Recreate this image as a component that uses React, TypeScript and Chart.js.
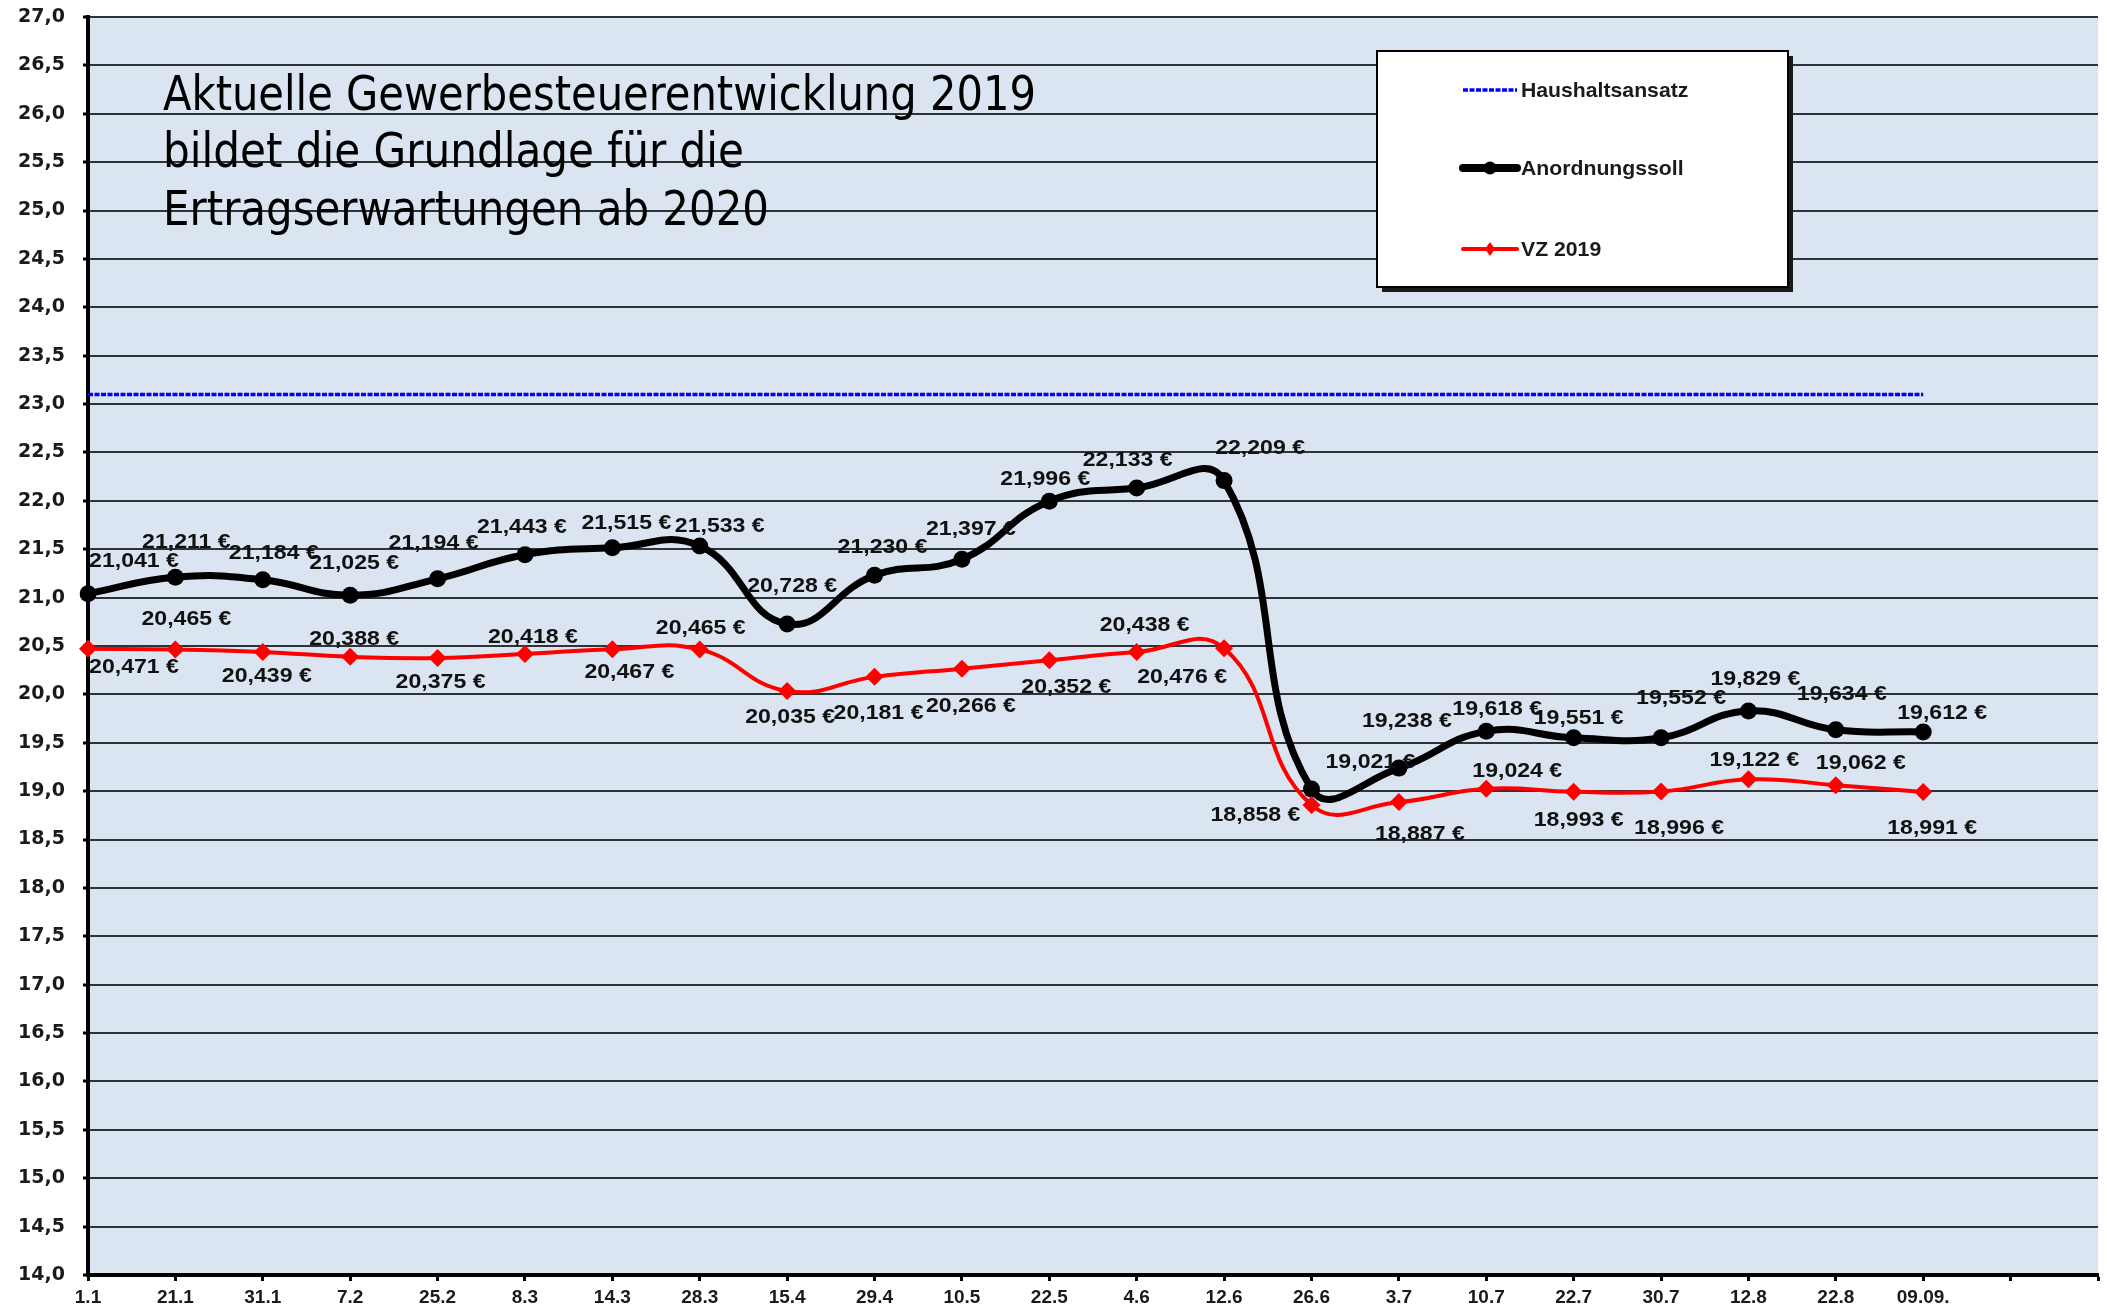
import React, { useEffect, useRef } from "react";
import { Chart, registerables } from "chart.js";

Chart.register(...registerables);

// ---------- data ----------
const categories: string[] = [
  "1.1", "21.1", "31.1", "7.2", "25.2", "8.3", "14.3", "28.3", "15.4", "29.4", "10.5",
  "22.5", "4.6", "12.6", "26.6", "3.7", "10.7", "22.7", "30.7", "12.8", "22.8", "09.09.", "", "",
];

const haushaltsansatz: number[] = [
  23.1, 23.1, 23.1, 23.1, 23.1, 23.1, 23.1, 23.1, 23.1, 23.1, 23.1,
  23.1, 23.1, 23.1, 23.1, 23.1, 23.1, 23.1, 23.1, 23.1, 23.1, 23.1,
];

const anordnungssoll: number[] = [
  21.041, 21.211, 21.184, 21.025, 21.194, 21.443, 21.515, 21.533, 20.728, 21.23, 21.397,
  21.996, 22.133, 22.209, 19.021, 19.238, 19.618, 19.551, 19.552, 19.829, 19.634, 19.612,
];

const vz2019: number[] = [
  20.471, 20.465, 20.439, 20.388, 20.375, 20.418, 20.467, 20.465, 20.035, 20.181, 20.266,
  20.352, 20.438, 20.476, 18.858, 18.887, 19.024, 18.993, 18.996, 19.122, 19.062, 18.991,
];

const seriesNames: string[] = ["Haushaltsansatz", "Anordnungssoll", "VZ 2019"];

const titleLines: string[] = [
  "Aktuelle Gewerbesteuerentwicklung 2019",
  "bildet die Grundlage für die",
  "Ertragserwartungen ab 2020",
];

// ---------- layout (label offsets relative to point, px) ----------
const blackLabelOffsets: [number, number][] = [
  [46, -32], [11, -35], [11, -27], [4, -32], [-4, -36], [-3, -28], [14, -25], [20, -20],
  [5, -38], [8, -28], [9, -30], [-4, -22], [-9, -28], [36, -32], [59, -27], [8, -47],
  [11, -22], [5, -20], [20, -40], [7, -32], [6, -36], [19, -19],
];
const redLabelOffsets: [number, number][] = [
  [46, 18], [11, -30], [4, 24], [4, -18], [3, 24], [8, -17], [17, 23], [1, -21],
  [3, 26], [4, 36], [9, 38], [17, 27], [8, -27], [-42, 29], [-56, 10], [21, 32],
  [31, -18], [5, 28], [18, 37], [6, -19], [25, -22], [9, 36],
];

const W = 2107;
const H = 1309;
const PLOT_BG = "#dbe5f1";

const fmtEuro = (v: number) => v.toFixed(3).replace(".", ",") + " €";

function stretchedText(ctx: any, text: string, x: number, y: number, sx: number) {
  ctx.save();
  ctx.translate(x, y);
  ctx.scale(sx, 1);
  ctx.fillText(text, 0, 0);
  ctx.restore();
}

const bgPlugin = {
  id: "bgPlugin",
  beforeDraw(chart: any) {
    const { ctx, chartArea } = chart;
    ctx.save();
    ctx.fillStyle = "#ffffff";
    ctx.fillRect(0, 0, chart.width, chart.height);
    ctx.fillStyle = PLOT_BG;
    ctx.fillRect(chartArea.left, chartArea.top, chartArea.right - chartArea.left, chartArea.bottom - chartArea.top);
    ctx.restore();
  },
};

const labelPlugin = {
  id: "labelPlugin",
  afterDatasetsDraw(chart: any) {
    const ctx = chart.ctx;
    ctx.save();
    ctx.font = 'bold 21px "Liberation Sans", Arial, sans-serif';
    ctx.fillStyle = "#111111";
    ctx.textAlign = "center";
    ctx.textBaseline = "middle";
    const sets: [number, number[], [number, number][]][] = [
      [1, anordnungssoll, blackLabelOffsets],
      [2, vz2019, redLabelOffsets],
    ];
    sets.forEach(([idx, values, offs]) => {
      const meta = chart.getDatasetMeta(idx);
      meta.data.forEach((el: any, i: number) => {
        if (i >= values.length) return;
        const o = offs[i] || [0, -25];
        stretchedText(ctx, fmtEuro(values[i]), el.x + o[0], el.y + o[1], 1.1);
      });
    });
    ctx.restore();
  },
};

const overlayPlugin = {
  id: "overlayPlugin",
  afterDraw(chart: any) {
    const ctx = chart.ctx;
    ctx.save();
    // title text
    ctx.fillStyle = "#000000";
    ctx.textAlign = "left";
    ctx.textBaseline = "alphabetic";
    ctx.font = '48px "DejaVu Sans Condensed", "DejaVu Sans", sans-serif';
    const widths = [873, 581, 606];
    const baselines = [110, 167, 225];
    titleLines.forEach((t, i) => ctx.fillText(t, 163, baselines[i], widths[i]));

    // legend box
    const bx = 1377, by = 51, bw = 411, bh = 236;
    ctx.fillStyle = "#1a1a1a";
    ctx.fillRect(bx + 5, by + 5, bw, bh);
    ctx.fillStyle = "#ffffff";
    ctx.fillRect(bx, by, bw, bh);
    ctx.strokeStyle = "#000000";
    ctx.lineWidth = 2;
    ctx.strokeRect(bx, by, bw, bh);

    const x0 = 1463, x1 = 1517, cx = (x0 + x1) / 2;
    const rows = [90, 168, 249];
    // Haushaltsansatz
    ctx.strokeStyle = "#0000ff";
    ctx.lineWidth = 3.5;
    ctx.setLineDash([5, 1.5]);
    ctx.beginPath();
    ctx.moveTo(x0, rows[0]);
    ctx.lineTo(x1, rows[0]);
    ctx.stroke();
    ctx.setLineDash([]);
    // Anordnungssoll
    ctx.strokeStyle = "#000000";
    ctx.lineWidth = 8;
    ctx.lineCap = "round";
    ctx.beginPath();
    ctx.moveTo(x0, rows[1]);
    ctx.lineTo(x1, rows[1]);
    ctx.stroke();
    ctx.fillStyle = "#000000";
    ctx.beginPath();
    ctx.arc(cx, rows[1], 6.5, 0, Math.PI * 2);
    ctx.fill();
    // VZ 2019
    ctx.strokeStyle = "#ff0000";
    ctx.lineWidth = 4;
    ctx.beginPath();
    ctx.moveTo(x0, rows[2]);
    ctx.lineTo(x1, rows[2]);
    ctx.stroke();
    ctx.fillStyle = "#ff0000";
    ctx.beginPath();
    ctx.moveTo(cx, rows[2] - 7);
    ctx.lineTo(cx + 5, rows[2]);
    ctx.lineTo(cx, rows[2] + 7);
    ctx.lineTo(cx - 5, rows[2]);
    ctx.closePath();
    ctx.fill();

    ctx.fillStyle = "#1a1a1a";
    ctx.font = 'bold 21px "Liberation Sans", Arial, sans-serif';
    ctx.textBaseline = "middle";
    seriesNames.forEach((n, i) => stretchedText(ctx, n, 1521, rows[i] + 1, 1.01));
    ctx.restore();
  },
};

export default function App() {
  const ref = useRef<HTMLCanvasElement | null>(null);

  useEffect(() => {
    if (!ref.current) return;
    const chart = new Chart(ref.current, {
      type: "line",
      data: {
        labels: categories,
        datasets: [
          {
            label: seriesNames[0],
            data: haushaltsansatz,
            borderColor: "#0000ff",
            borderWidth: 3.5,
            borderDash: [5, 1.5],
            pointRadius: 0,
            tension: 0,
            order: 2,
          },
          {
            label: seriesNames[1],
            data: anordnungssoll,
            borderColor: "#000000",
            backgroundColor: "#000000",
            borderWidth: 7,
            pointStyle: "circle",
            pointRadius: 8.5,
            pointBorderWidth: 0,
            tension: 0.45,
            order: 1,
          },
          {
            label: seriesNames[2],
            data: vz2019,
            borderColor: "#ff0000",
            backgroundColor: "#ff0000",
            borderWidth: 4,
            pointStyle: "rectRot",
            pointRadius: 9,
            pointBorderWidth: 0,
            tension: 0.45,
            order: 0,
          },
        ],
      },
      options: {
        responsive: false,
        animation: false,
        layout: { padding: { left: 0, right: 9, top: 17, bottom: 0 } },
        plugins: {
          legend: { display: false },
          tooltip: { enabled: false },
        },
        scales: {
          x: {
            offset: false,
            afterFit: (s: any) => {
              s.height = 34;
              s.paddingLeft = 0;
              s.paddingRight = 0;
            },
            grid: {
              drawOnChartArea: false,
              drawTicks: true,
              tickLength: 6,
              tickColor: "#000000",
              tickWidth: 3,
            },
            border: { display: true, color: "#000000", width: 4 },
            ticks: {
              autoSkip: false,
              maxRotation: 0,
              minRotation: 0,
              padding: 5,
              color: "#1a1a1a",
              font: { family: '"Liberation Sans", Arial, sans-serif', size: 19, weight: "bold" },
            },
          },
          y: {
            min: 14,
            max: 27,
            afterFit: (s: any) => {
              s.width = 88;
              s.paddingTop = 0;
              s.paddingBottom = 0;
            },
            grid: {
              color: "#2e3338",
              lineWidth: 2,
              drawTicks: true,
              tickLength: 5,
              tickColor: "#000000",
              tickWidth: 3,
            },
            border: { display: true, color: "#000000", width: 4 },
            ticks: {
              stepSize: 0.5,
              padding: 18,
              color: "#1a1a1a",
              font: { family: '"DejaVu Sans", sans-serif', size: 19, weight: "bold" },
              callback: (v: any) => Number(v).toFixed(1).replace(".", ","),
            },
          },
        },
      },
      plugins: [bgPlugin, labelPlugin, overlayPlugin],
    } as any);
    return () => chart.destroy();
  }, []);

  return (
    <div style={{ position: "fixed", left: 0, top: 0, width: W, height: H, background: "#ffffff" }}>
      <canvas ref={ref} width={W} height={H} style={{ width: W, height: H, display: "block" }} />
    </div>
  );
}
